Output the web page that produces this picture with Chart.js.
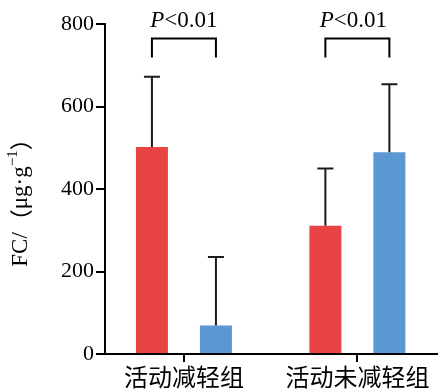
<!DOCTYPE html>
<html>
<head>
<meta charset="utf-8">
<script src="https://cdn.jsdelivr.net/npm/chart.js@4/dist/chart.umd.min.js"></script>
<style>
	body { margin: 0; background: #fff; }
	#wrap { width: 444px; height: 391px; }
</style>
</head>
<body>
<div id="wrap"><canvas id="c" width="444" height="391"></canvas></div>
<script>
var categories = ["活动减轻组", "活动未减轻组"];
var redMeans = [502, 311];
var redSd = [170, 139];
var blueMeans = [69, 489];
var blueSd = [166, 165];
var yTicks = [0, 200, 400, 600, 800];
var pLabels = ["<0.01", "<0.01"]; // 前に斜体の P
var yTitle = ["FC/", "（", "μg·g", "−1", "）"];

var SERIF = "'Liberation Serif', 'Times New Roman', serif";
var CJK = "'Noto Sans CJK SC', sans-serif";

function toPoints(vals) {
	return vals.map(function(v, i) { return { x: i, y: v }; });
}

// error bars (up only)
var errPlugin = {
	id: "errBars",
	afterDatasetsDraw: function(chart) {
		var ctx = chart.ctx;
		var ys = chart.scales.y;
		var sets = [[redMeans, redSd], [blueMeans, blueSd]];
		ctx.save();
		ctx.strokeStyle = "#1a1a1a";
		ctx.lineWidth = 2;
		for(var d = 0; d < sets.length; d++) {
			var meta = chart.getDatasetMeta(d);
			meta.data.forEach(function(bar, i) {
				var top = ys.getPixelForValue(sets[d][0][i] + sets[d][1][i]);
				ctx.beginPath();
				ctx.moveTo(bar.x, bar.y);
				ctx.lineTo(bar.x, top);
				ctx.moveTo(bar.x - 8, top);
				ctx.lineTo(bar.x + 8, top);
				ctx.stroke();
			});
		}
		ctx.restore();
	}
};

// brackets + P text, y title
var notePlugin = {
	id: "notes",
	afterDraw: function(chart) {
		var ctx = chart.ctx;
		var ys = chart.scales.y;
		var m0 = chart.getDatasetMeta(0), m1 = chart.getDatasetMeta(1);
		var yTop = ys.getPixelForValue(765);
		var yLeg = ys.getPixelForValue(719);
		var yTxt = ys.getPixelForValue(792);
		ctx.save();
		ctx.strokeStyle = "#000";
		ctx.lineWidth = 2;
		for(var i = 0; i < categories.length; i++) {
			var x1 = m0.data[i].x, x2 = m1.data[i].x;
			ctx.beginPath();
			ctx.moveTo(x1, yLeg);
			ctx.lineTo(x1, yTop);
			ctx.lineTo(x2, yTop);
			ctx.lineTo(x2, yLeg);
			ctx.stroke();

			ctx.fillStyle = "#000";
			ctx.textBaseline = "alphabetic";
			ctx.textAlign = "left";
			ctx.font = "italic 23px " + SERIF;
			var wP = ctx.measureText("P").width;
			ctx.font = "23px " + SERIF;
			var wR = ctx.measureText(pLabels[i]).width;
			var sx = (x1 + x2) / 2 - (wP + wR) / 2 - (i == 1 ? 4 : 0);
			ctx.font = "italic 23px " + SERIF;
			ctx.fillText("P", sx, yTxt);
			ctx.font = "23px " + SERIF;
			ctx.fillText(pLabels[i], sx + wP, yTxt);
		}

		// y title
		var fonts = ["23px " + SERIF, "23px " + CJK, "23px " + SERIF, "15px " + SERIF, "23px " + CJK];
		var rises = [0, 0, 0, -8, 0];
		var total = 0, ws = [];
		for(var k = 0; k < yTitle.length; k++) {
			ctx.font = fonts[k];
			ws.push(ctx.measureText(yTitle[k]).width);
			total += ws[k];
		}
		ctx.translate(21, 197);
		ctx.rotate(-Math.PI / 2);
		ctx.textBaseline = "middle";
		ctx.textAlign = "left";
		var px = -total / 2;
		for(var k = 0; k < yTitle.length; k++) {
			ctx.font = fonts[k];
			ctx.fillText(yTitle[k], px, rises[k]);
			px += ws[k];
		}
		ctx.restore();
	}
};

Chart.defaults.font.family = SERIF;
Chart.defaults.color = "#000";

new Chart(document.getElementById("c").getContext("2d"), {
	type: "bar",
	data: {
		datasets: [
			{
				data: toPoints(redMeans),
				backgroundColor: "#e84444",
				categoryPercentage: 0.738,
				barPercentage: 0.5
			},
			{
				data: toPoints(blueMeans),
				backgroundColor: "#5b97d3",
				categoryPercentage: 0.738,
				barPercentage: 0.5
			}
		]
	},
	options: {
		responsive: false,
		animation: false,
		layout: { padding: { top: 24, right: 7, left: 0, bottom: 0 } },
		plugins: { legend: { display: false }, tooltip: { enabled: false } },
		scales: {
			x: {
				type: "linear",
				offset: false,
				min: -0.455,
				max: 1.459,
				afterBuildTicks: function(scale) {
					scale.ticks = categories.map(function(c, i) { return { value: i }; });
				},
				afterFit: function(scale) { scale.height = 37; },
				border: { color: "#000", width: 2 },
				grid: { offset: false, drawOnChartArea: false, drawTicks: true, tickLength: 8, color: "#000", lineWidth: 2 },
				ticks: {
					padding: 0,
					maxRotation: 0,
					font: { size: 24, family: CJK },
					color: "#000",
					callback: function(v) { return categories[v]; }
				}
			},
			y: {
				min: yTicks[0],
				max: yTicks[yTicks.length - 1],
				afterBuildTicks: function(scale) {
					scale.ticks = yTicks.map(function(v) { return { value: v }; });
				},
				afterFit: function(scale) { scale.width = 105; },
				border: { color: "#000", width: 2 },
				grid: { drawOnChartArea: false, drawTicks: true, tickLength: 9, color: "#000", lineWidth: 2 },
				ticks: { padding: 2, font: { size: 22, family: SERIF }, color: "#000" }
			}
		}
	},
	plugins: [errPlugin, notePlugin]
});
</script>
</body>
</html>
